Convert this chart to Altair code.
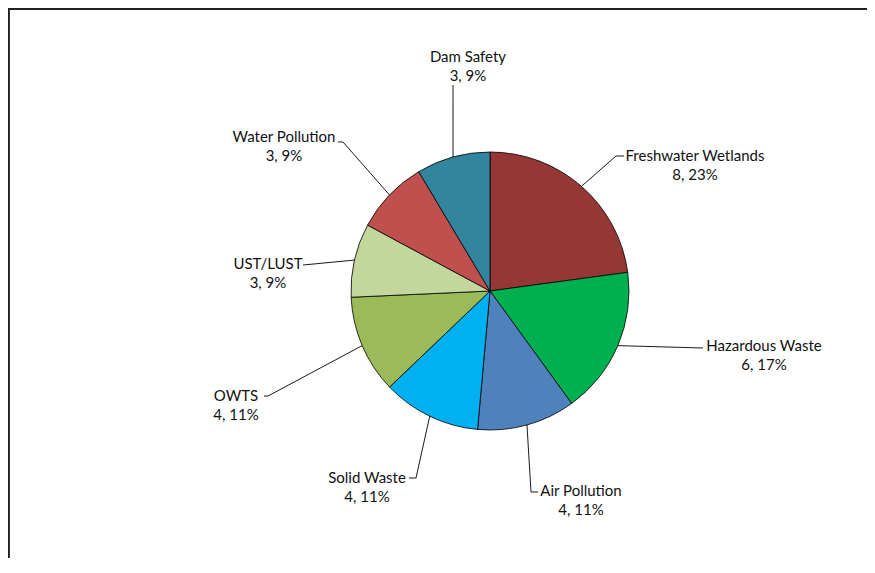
import math
import altair as alt
import pandas as pd

# ---- data ----
categories = ["Freshwater Wetlands", "Hazardous Waste", "Air Pollution", "Solid Waste",
              "OWTS", "UST/LUST", "Water Pollution", "Dam Safety"]
counts = [8, 6, 4, 4, 4, 3, 3, 3]
colors = ["#953735", "#00B050", "#4F81BD", "#00B0F0",
          "#9BBB59", "#C3D69B", "#C0504D", "#31859C"]

# ---- layout (plot-area pixels) ----
W, H = 859, 550
CX, CY, R = 482, 283, 139
label_cx = [687, 756, 573, 359, 228, 260, 276, 460]
label_y = [148, 338, 483, 470, 388, 256, 129, 49]
elbow_x = [608, 695, 523, 408, 260, 295, 335, 445]
elbow_y = [148, 340, 484, 470, 388, 257, 134, 77]
end_x = [616, 695, 530, 401, 256, 295, 330, 445]
end_y = [148, 340, 484, 470, 388, 257, 134, 77]
FONT = "Lato"
FS = 15
LINE_GAP = 19

total = sum(counts)
pie_df = pd.DataFrame({"category": categories, "count": counts, "idx": list(range(len(counts)))})

names, values, tx, ty1, ty2 = [], [], [], [], []
leader_rows = []
cum = 0
for i, (c, n) in enumerate(zip(categories, counts)):
    pct = round(n / total * 100)
    names.append(c)
    values.append(f"{n}, {pct}%")
    tx.append(label_cx[i])
    ty1.append(label_y[i])
    ty2.append(label_y[i] + LINE_GAP)
    a = (cum + n / 2) / total * 2 * math.pi
    cum += n
    ex = CX + R * math.sin(a)
    ey = CY - R * math.cos(a)
    leader_rows.append({"category": c, "seq": 0, "px": ex, "py": ey})
    leader_rows.append({"category": c, "seq": 1, "px": elbow_x[i], "py": elbow_y[i]})
    leader_rows.append({"category": c, "seq": 2, "px": end_x[i], "py": end_y[i]})

lab_df = pd.DataFrame({"name": names, "value": values, "tx": tx, "ty1": ty1, "ty2": ty2})
lead_df = pd.DataFrame(leader_rows)

pie = alt.Chart(pie_df).mark_arc(outerRadius=R, stroke="black", strokeWidth=0.8).encode(
    theta=alt.Theta("count:Q", stack=True),
    color=alt.Color("category:N", scale=alt.Scale(domain=categories, range=colors), legend=None),
    order=alt.Order("idx:Q"),
    x=alt.value(CX),
    y=alt.value(CY),
)

leaders = alt.Chart(lead_df).mark_line(color="black", strokeWidth=0.9).encode(
    x=alt.X("px:Q", scale=None, axis=None),
    y=alt.Y("py:Q", scale=None, axis=None),
    detail="category:N",
    order="seq:Q",
)

name_text = alt.Chart(lab_df).mark_text(font=FONT, fontSize=FS, color="#111111",
                                         align="center", baseline="middle").encode(
    x=alt.X("tx:Q", scale=None, axis=None),
    y=alt.Y("ty1:Q", scale=None, axis=None),
    text="name:N",
)
value_text = alt.Chart(lab_df).mark_text(font=FONT, fontSize=FS, color="#111111",
                                          align="center", baseline="middle").encode(
    x=alt.X("tx:Q", scale=None, axis=None),
    y=alt.Y("ty2:Q", scale=None, axis=None),
    text="value:N",
)

frame_top = alt.Chart(pie_df).mark_rule(color="#222222", strokeWidth=1.5).encode(
    x=alt.value(0), x2=alt.value(W), y=alt.value(1)
)
frame_left = alt.Chart(pie_df).mark_rule(color="#222222", strokeWidth=1.5).encode(
    x=alt.value(0.5), y=alt.value(1), y2=alt.value(H)
)

chart = alt.layer(frame_top, frame_left, pie, leaders, name_text, value_text).properties(
    width=W, height=H, padding=0, autosize=alt.AutoSizeParams(type="none"),
    background="white",
).configure_view(stroke=None)

chart.save("out.html", embed_options={"renderer": "svg", "actions": False})
